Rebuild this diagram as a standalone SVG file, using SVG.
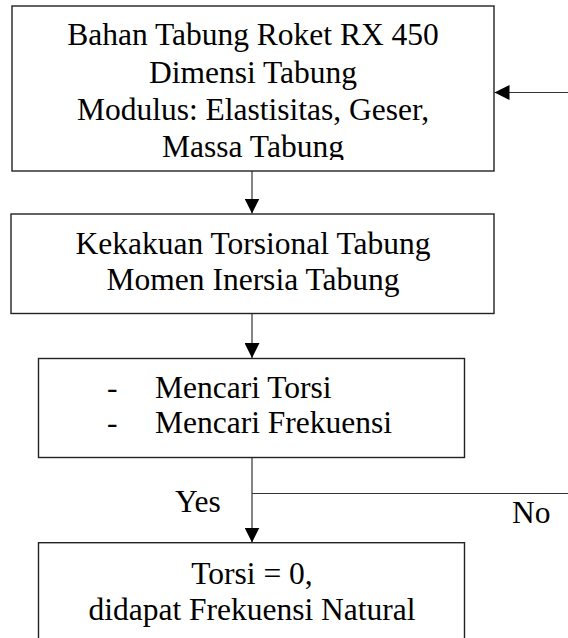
<svg xmlns="http://www.w3.org/2000/svg" width="568" height="638" viewBox="0 0 568 638">
<style>
.box{fill:#fff;stroke:#222;stroke-width:1.4}
.t{font-family:"Liberation Serif","Times New Roman",serif;font-size:31.5px;fill:#000}
.c{text-anchor:middle}
.ln{stroke:#333;stroke-width:1.2;fill:none}
</style>
<defs>
<marker id="ah" viewBox="0 0 15 15" refX="15" refY="7.5" markerWidth="15" markerHeight="15" markerUnits="userSpaceOnUse" orient="auto">
<path d="M0,0 L15,7.5 L0,15 Z" fill="#000"/>
</marker>
<clipPath id="clip1"><rect x="12" y="6" width="482" height="154"/></clipPath>
</defs>
<rect width="568" height="638" fill="#fff"/>
<g id="connectors">
<line class="ln" x1="252" y1="171" x2="252" y2="213.5" marker-end="url(#ah)"/>
<line class="ln" x1="252" y1="313.5" x2="252" y2="358" marker-end="url(#ah)"/>
<line class="ln" x1="252" y1="457.5" x2="252" y2="542.5" marker-end="url(#ah)"/>
<line class="ln" x1="252" y1="493.5" x2="568" y2="493.5"/>
<line class="ln" x1="568" y1="92.5" x2="494.5" y2="92.5" marker-end="url(#ah)"/>
<text class="t" x="175" y="512">Yes</text>
<text class="t" x="512" y="523">No</text>
</g>
<g id="node1">
<rect class="box" x="12" y="6" width="482" height="165"/>
<g clip-path="url(#clip1)">
<text class="t c" x="253" y="45">Bahan Tabung Roket RX 450</text>
<text class="t c" x="253" y="82.5">Dimensi Tabung</text>
<text class="t c" x="253" y="120">Modulus: Elastisitas, Geser,</text>
<text class="t c" x="253" y="157">Massa Tabung</text>
</g>
</g>
<g id="node2">
<rect class="box" x="11" y="214" width="483" height="99.5"/>
<text class="t c" x="253" y="253.5">Kekakuan Torsional Tabung</text>
<text class="t c" x="253" y="290">Momen Inersia Tabung</text>
</g>
<g id="node3">
<rect class="box" x="38.5" y="358.5" width="426" height="99"/>
<text class="t" x="107" y="397.5">-</text>
<text class="t" x="155" y="397.5">Mencari Torsi</text>
<text class="t" x="107" y="433">-</text>
<text class="t" x="155" y="433">Mencari Frekuensi</text>
</g>
<g id="node4">
<rect class="box" x="38.5" y="542.7" width="426" height="110"/>
<text class="t c" x="252" y="583.5">Torsi = 0,</text>
<text class="t c" x="252" y="620">didapat Frekuensi Natural</text>
</g>
</svg>
